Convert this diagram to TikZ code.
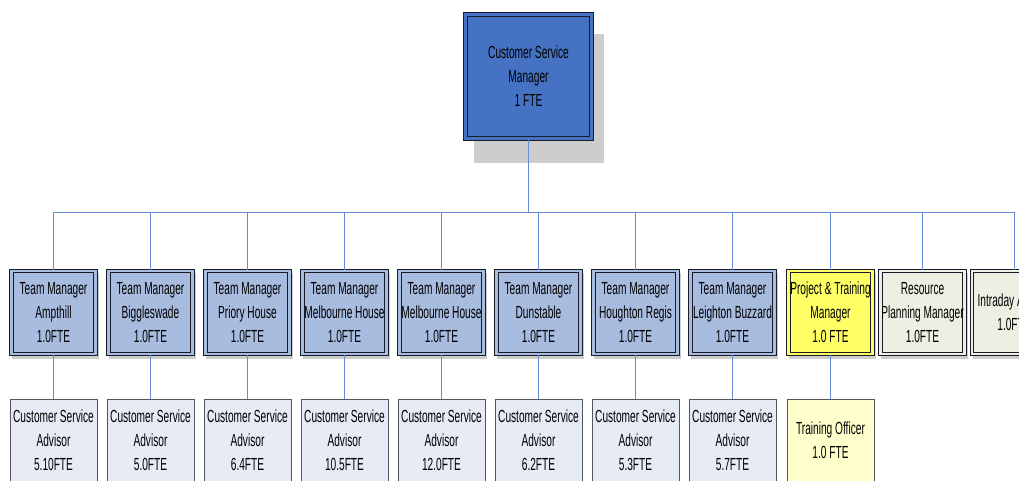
\documentclass[tikz,border=0pt]{standalone}
\usepackage{fontspec}
\setmainfont{Liberation Sans}[FakeStretch=0.58]
\definecolor{topfill}{RGB}{70,114,196}
\definecolor{edge}{RGB}{25,28,40}
\definecolor{conn}{RGB}{100,140,215}
\definecolor{tmfill}{RGB}{168,188,224}
\definecolor{advfill}{RGB}{230,235,245}
\definecolor{yelfill}{RGB}{255,255,102}
\definecolor{tofill}{RGB}{255,255,204}
\definecolor{resfill}{RGB}{238,238,226}
\definecolor{shadowgray}{RGB}{205,205,205}
\tikzset{
  boxtext/.style={align=center,font=\fontsize{17.5}{24}\selectfont,text=black,inner sep=0pt},
  mgrbox/.style={boxtext,draw=edge,line width=1.1pt,double distance=2.2pt,minimum width=84pt,minimum height=83pt},
  leafbox/.style={boxtext,draw=edge!75,line width=0.9pt,minimum width=87pt,minimum height=82pt},
  conn/.style={draw=conn,line width=1pt}
}
\begin{document}
\begin{tikzpicture}[x=1pt,y=-1pt]
\useasboundingbox (0,0) rectangle (1019,480);
\clip (0,0) rectangle (1019,480);
% top box
\fill[shadowgray] (474,34) rectangle (604,163);
\node[boxtext,draw=edge,line width=1.1pt,double=topfill,double distance=2.5pt,fill=topfill,minimum width=126pt,minimum height=124pt] (top) at (528.5,76.5) {Customer Service\\Manager\\1 FTE};
\coordinate (bus) at (529,212);
% managers
\foreach \n/\x/\fc/\t in {
 tm1/53.5/tmfill/{Team Manager\\Ampthill\\1.0FTE},
 tm2/150.5/tmfill/{Team Manager\\Biggleswade\\1.0FTE},
 tm3/247.5/tmfill/{Team Manager\\Priory House\\1.0FTE},
 tm4/344.5/tmfill/{Team Manager\\Melbourne House\\1.0FTE},
 tm5/441.5/tmfill/{Team Manager\\Melbourne House\\1.0FTE},
 tm6/538.5/tmfill/{Team Manager\\Dunstable\\1.0FTE},
 tm7/635.5/tmfill/{Team Manager\\Houghton Regis\\1.0FTE},
 tm8/732.5/tmfill/{Team Manager\\Leighton Buzzard\\1.0FTE},
 ptm/830.5/yelfill/{Project\,\&\,Training\\Manager\\1.0 FTE},
 rpm/922.5/resfill/{Resource\\Planning Manager\\1.0FTE},
 ida/1014/resfill/{Intraday Analyst\\1.0FTE}} {
  \fill[shadowgray] (\x-41.5,272.5) rectangle (\x+45.5,358.5);
  \node[mgrbox,fill=\fc,double=\fc] (\n) at (\x,312.5) {\t};
  \draw[conn] (top.south) -- (top.south |- bus) -| (\n.north);
}
% advisors
\foreach \p/\n/\x/\f in {
 tm1/ad1/53.5/5.10FTE, tm2/ad2/150.5/5.0FTE, tm3/ad3/247.5/6.4FTE,
 tm4/ad4/344.5/10.5FTE, tm5/ad5/441.5/12.0FTE, tm6/ad6/538.5/6.2FTE,
 tm7/ad7/635.5/5.3FTE, tm8/ad8/732.5/5.7FTE} {
  \node[leafbox,fill=advfill,anchor=north] (\n) at (\x,399) {Customer Service\\Advisor\\\f};
  \draw[conn] (\p.south) -- (\n.north);
}
\node[leafbox,fill=tofill,anchor=north] (to) at (830.5,399) {Training Officer\\1.0 FTE};
\draw[conn] (ptm.south) -- (to.north);
\end{tikzpicture}
\end{document}
